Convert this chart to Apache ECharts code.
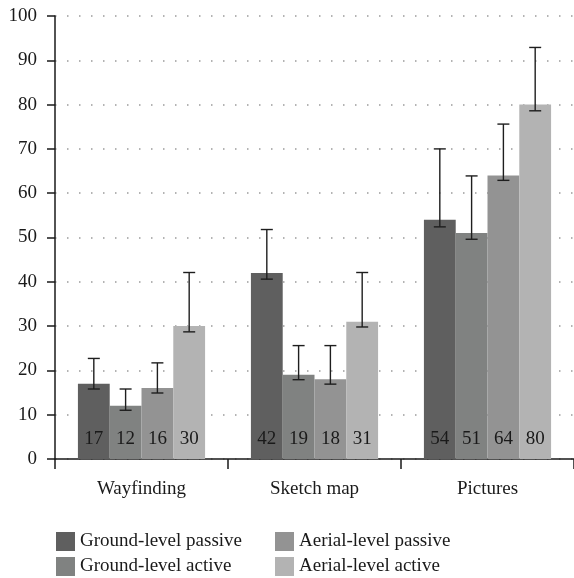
<!DOCTYPE html>
<html>
<head>
<meta charset="utf-8">
<script src="https://cdn.jsdelivr.net/npm/echarts@6/dist/echarts.min.js"></script>
<style>html,body{margin:0;padding:0;background:#fff}#c{width:574px;height:578px}</style>
</head>
<body>
<div id="c"></div>
<script>
var categories = ['Wayfinding', 'Sketch map', 'Pictures'];
var seriesNames = ['Ground-level passive', 'Ground-level active', 'Aerial-level passive', 'Aerial-level active'];
var groundPassive = [17, 42, 54];
var groundActive = [12, 19, 51];
var aerialPassive = [16, 18, 64];
var aerialActive = [30, 31, 80];
var groundPassiveLow = [15.8, 40.6, 52.4];
var groundPassiveHigh = [22.7, 51.8, 70.0];
var groundActiveLow = [11.0, 17.9, 49.6];
var groundActiveHigh = [15.8, 25.6, 63.9];
var aerialPassiveLow = [14.9, 16.9, 62.9];
var aerialPassiveHigh = [21.7, 25.6, 75.6];
var aerialActiveLow = [28.7, 29.8, 78.6];
var aerialActiveHigh = [42.1, 42.1, 92.9];
var yTicks = [0, 10, 20, 30, 40, 50, 60, 70, 80, 90, 100];

var values = [groundPassive, groundActive, aerialPassive, aerialActive];
var lows = [groundPassiveLow, groundActiveLow, aerialPassiveLow, aerialActiveLow];
var highs = [groundPassiveHigh, groundActiveHigh, aerialPassiveHigh, aerialActiveHigh];
var colors = ['#5f5f5f', '#808281', '#939393', '#b3b3b3'];
var FONT = 'Liberation Serif';
var GAP = 0.265;

var chart = echarts.init(document.getElementById('c'), null, {renderer: 'canvas'});

var series = [];
seriesNames.forEach(function (name, j) {
  series.push({
    name: name,
    type: 'bar',
    data: values[j],
    itemStyle: {color: colors[j]},
    barGap: '0%',
    barCategoryGap: (GAP * 100) + '%',
    label: {
      show: true,
      position: 'insideBottom',
      distance: 10,
      color: '#1a1a1a',
      fontFamily: FONT,
      fontSize: 19
    },
    emphasis: {disabled: true}
  });
});
seriesNames.forEach(function (name, j) {
  var data = categories.map(function (c, i) { return [i, lows[j][i], highs[j][i]]; });
  series.push({
    type: 'custom',
    silent: true,
    z: 10,
    data: data,
    renderItem: function (params, api) {
      var i = api.value(0);
      var lo = api.coord([i, api.value(1)]);
      var hi = api.coord([i, api.value(2)]);
      var band = api.size([1, 0])[0];
      var bw = band * (1 - GAP) / 4;
      var x = lo[0] + (j - 1.5) * bw;
      var cap = 6;
      var style = {stroke: '#1e1e1e', lineWidth: 1.4};
      return {
        type: 'group',
        children: [
          {type: 'line', shape: {x1: x, y1: lo[1], x2: x, y2: hi[1]}, style: style},
          {type: 'line', shape: {x1: x - cap, y1: lo[1], x2: x + cap, y2: lo[1]}, style: style},
          {type: 'line', shape: {x1: x - cap, y1: hi[1], x2: x + cap, y2: hi[1]}, style: style}
        ]
      };
    }
  });
});

var legendCommon = {
  orient: 'vertical',
  padding: 0,
  itemWidth: 19,
  itemHeight: 19,
  itemGap: 6,
  icon: 'rect',
  selectedMode: false,
  textStyle: {fontFamily: FONT, fontSize: 19, color: '#1a1a1a'},
  top: 532,
  height: 46
};

chart.setOption({
  animation: false,
  backgroundColor: '#fff',
  grid: {left: 55, right: -1, top: 16, bottom: 119, containLabel: false},
  legend: [
    Object.assign({}, legendCommon, {left: 56, data: [seriesNames[0], seriesNames[1]]}),
    Object.assign({}, legendCommon, {left: 275, data: [seriesNames[2], seriesNames[3]]})
  ],
  xAxis: {
    type: 'category',
    data: categories,
    axisLine: {lineStyle: {color: '#1a1a1a', width: 1.5}},
    axisTick: {show: true, length: 10, lineStyle: {color: '#1a1a1a', width: 1.5}},
    axisLabel: {fontFamily: FONT, fontSize: 19, color: '#1a1a1a', margin: 21}
  },
  yAxis: {
    type: 'value',
    min: yTicks[0],
    max: yTicks[yTicks.length - 1],
    interval: 10,
    axisLine: {show: true, lineStyle: {color: '#1a1a1a', width: 1.5}},
    axisTick: {show: true, length: 8, lineStyle: {color: '#1a1a1a', width: 1.5}},
    axisLabel: {fontFamily: FONT, fontSize: 19, color: '#1a1a1a', margin: 18},
    splitLine: {show: true, lineStyle: {color: '#9a9a9a', width: 1.5, type: [1.5, 10.5]}}
  },
  series: series
});
</script>
</body>
</html>
